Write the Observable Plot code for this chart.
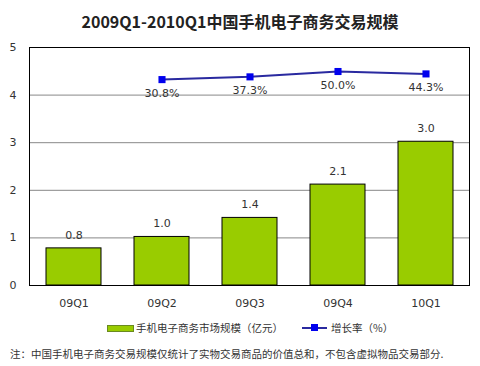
<!DOCTYPE html>
<html><head><meta charset="utf-8">
<script src="https://cdn.jsdelivr.net/npm/d3@7"></script>
<script src="https://cdn.jsdelivr.net/npm/@observablehq/plot@0.6"></script>
<style>
body{margin:0;background:#fff;}
#wrap{position:relative;width:480px;height:366px;overflow:hidden;font-family:"DejaVu Sans","Noto Sans CJK SC",sans-serif;color:#333;}
#title{position:absolute;left:0;top:9px;width:480px;text-align:center;font-size:16px;font-weight:bold;color:#222;font-family:"Noto Sans CJK SC",sans-serif;line-height:24px;}
#chart{position:absolute;left:0;top:35px;}
#legend{position:absolute;left:0;top:319px;width:480px;height:18px;font-size:10.5px;font-family:"Noto Sans CJK SC",sans-serif;line-height:18px;}
#note{position:absolute;left:10px;top:345px;font-size:10.5px;font-family:"Noto Sans CJK SC",sans-serif;line-height:18px;color:#333;white-space:nowrap;}
</style></head>
<body><div id="wrap">
<div id="title"></div>
<div id="chart"></div>
<div id="legend"></div>
<div id="note"></div>
</div>
<script>
const titleText = "2009Q1-2010Q1中国手机电子商务交易规模";
const quarters = ["09Q1","09Q2","09Q3","09Q4","10Q1"];
const marketSize = [0.78, 1.02, 1.42, 2.12, 3.02];
const marketLabels = ["0.8","1.0","1.4","2.1","3.0"];
const growthQuarters = ["09Q2","09Q3","09Q4","10Q1"];
const growthRates = [30.8, 37.3, 50.0, 44.3];
const growthLabels = ["30.8%","37.3%","50.0%","44.3%"];
const yTicks = [0,1,2,3,4,5];
const gridTicks = [1,2,3,4];
const secondaryDomain = [-458, 107]; // hidden secondary axis (%) mapped onto 0..5
const barName = "手机电子商务市场规模（亿元）";
const lineName = "增长率（%）";
const noteText = "注：中国手机电子商务交易规模仅统计了实物交易商品的价值总和，不包含虚拟物品交易部分.";

document.getElementById("title").textContent = titleText;

const bars = quarters.map((q,i)=>({q, v:marketSize[i], label:marketLabels[i]}));
const toPrimary = d3.scaleLinear().domain(secondaryDomain).range([0,5]);
const growth = growthQuarters.map((q,i)=>({q, r:growthRates[i], y:toPrimary(growthRates[i]), label:growthLabels[i]}));

const chart = Plot.plot({
  width:480, height:280,
  marginTop:12, marginBottom:30, marginLeft:29, marginRight:11,
  style:{fontFamily:"DejaVu Sans, sans-serif", fontSize:"11px", color:"#333", background:"transparent"},
  x:{type:"band", domain:quarters, paddingInner:0.375, paddingOuter:0.1875, label:null},
  y:{domain:[0,5], label:null},
  marks:[
    Plot.gridY(gridTicks, {stroke:"#888", strokeOpacity:1}),
    Plot.axisY({ticks:yTicks, tickSize:0, tickPadding:13, tickFormat:d=>String(d), label:null}),
    Plot.axisX({tickSize:0, tickPadding:14, label:null}),
    Plot.barY(bars, {x:"q", y:"v", fill:"#99CC00", stroke:"#000", strokeWidth:1}),
    Plot.text(bars, {x:"q", y:"v", text:"label", dy:-13, fill:"#333"}),
    Plot.line(growth, {x:"q", y:"y", stroke:"#2a2aa0", strokeWidth:2}),
    Plot.dot(growth, {x:"q", y:"y", symbol:"square", r:4, fill:"#0000EE", stroke:"none"}),
    Plot.text(growth, {x:"q", y:"y", text:"label", dy:14, fill:"#333"}),
    Plot.frame({stroke:"#000", strokeWidth:1})
  ]
});
document.getElementById("chart").appendChild(chart);

document.getElementById("legend").innerHTML =
  `<span style="position:absolute;left:107px;top:6px;width:25px;height:5px;background:#99CC00;border:1px solid #6a8a20;"></span>` +
  `<span style="position:absolute;left:136px;top:0;">${barName}</span>` +
  `<span style="position:absolute;left:302px;top:8px;width:25px;height:2px;background:#2a2aa0;"></span>` +
  `<span style="position:absolute;left:311px;top:5px;width:7px;height:7px;background:#0000EE;"></span>` +
  `<span style="position:absolute;left:331px;top:0;">${lineName}</span>`;
document.getElementById("note").textContent = noteText;
</script>
</body></html>
